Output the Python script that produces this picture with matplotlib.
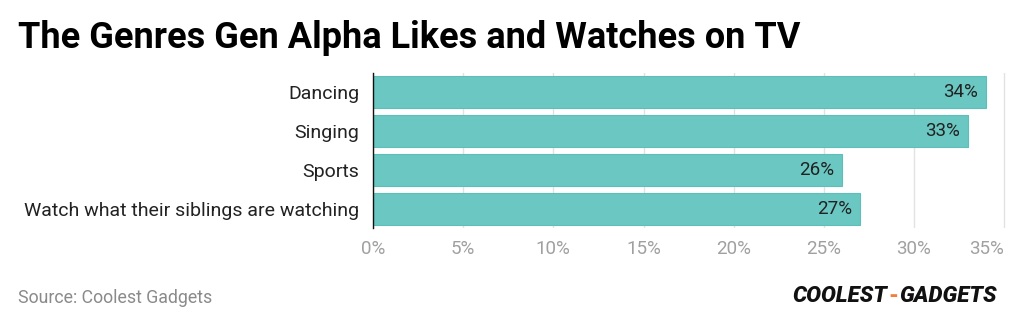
import matplotlib.pyplot as plt

genres = ['Dancing', 'Singing', 'Sports', 'Watch what their siblings are watching']
shares = [34, 33, 26, 27]
xticks = [0, 5, 10, 15, 20, 25, 30, 35]

plt.rcParams['font.family'] = ['Roboto', 'DejaVu Sans']

fig = plt.figure(figsize=(10.24, 3.25), dpi=100)
fig.set_facecolor('white')
ax = fig.add_axes([373 / 1024, 1 - 228 / 325, (1006 - 373) / 1024, (228 - 73) / 325])

ypos = list(range(len(genres)))
ax.barh(ypos, shares, height=0.82, color='#6ac7c1', edgecolor='#5dbfb8', linewidth=0.8, zorder=2)
for y, v in zip(ypos, shares):
    ax.text(v - 0.45, y, '{0}%'.format(v), ha='right', va='center', fontsize=13.5, color='#222222', zorder=3)

ax.set_yticks(ypos)
ax.set_yticklabels(genres, fontsize=14, color='#222222')
ax.set_ylim(len(genres) - 0.5, -0.5)
ax.set_xlim(0, 35.1)
ax.set_xticks(xticks)
ax.set_xticklabels(['{0}%'.format(t) for t in xticks], fontsize=13.5, color='#a0a0a0')
ax.get_xticklabels()[-1].set_horizontalalignment('right')
ax.tick_params(axis='both', length=0)
ax.tick_params(axis='y', pad=10)
ax.tick_params(axis='x', pad=9)
ax.xaxis.grid(True, color='#e2e2e2', linewidth=1, zorder=0)
for s in ['top', 'right', 'bottom']:
    ax.spines[s].set_visible(False)
ax.spines['left'].set_color('#111111')
ax.spines['left'].set_linewidth(1)

fig.text(18 / 1024, 1 - 38 / 325, 'The Genres Gen Alpha Likes and Watches on TV', fontsize=26,
         fontweight='bold', color='#000000', va='center', ha='left')
fig.text(18 / 1024, 1 - 298 / 325, 'Source: Coolest Gadgets', fontsize=12.8, color='#8a8a8a',
         va='center', ha='left')

# logo
r = fig.canvas.get_renderer()
t1 = fig.text(792 / 1024, 1 - 296 / 325, 'COOLEST', fontsize=16, fontweight='heavy', style='italic',
              color='#111111', va='center', ha='left')
x1 = t1.get_window_extent(r).x1
t2 = fig.text((x1 + 1) / 1024, 1 - 296 / 325, '-', fontsize=16, fontweight='heavy', color='#f07f3c',
              va='center', ha='left')
x2 = t2.get_window_extent(r).x1
fig.text((x2 + 1) / 1024, 1 - 296 / 325, 'GADGETS', fontsize=16, fontweight='heavy', style='italic',
         color='#111111', va='center', ha='left')

plt.savefig('out.png', dpi=100, facecolor='white')
